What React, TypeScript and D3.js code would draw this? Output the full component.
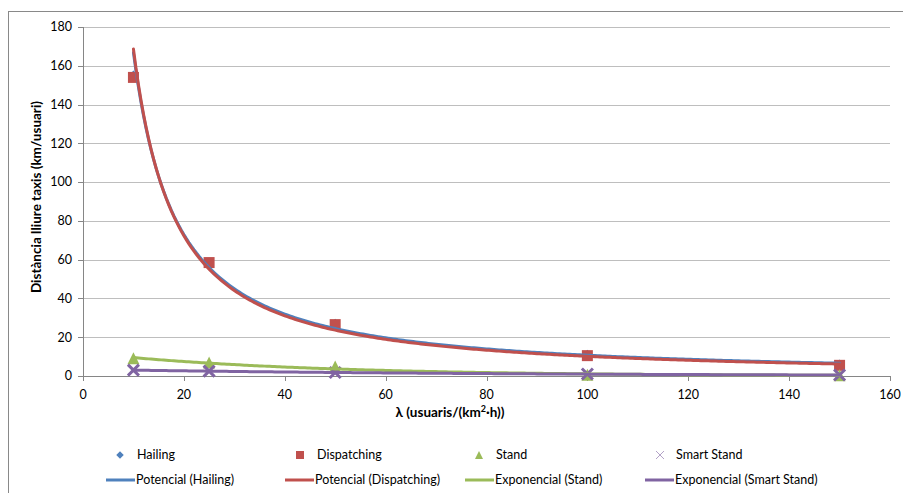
import React from "react";
import * as d3 from "d3";

// Arrival rate λ (usuaris/(km²·h))
const lambdas = [10, 25, 50, 100, 150];
// Free distance per taxi (km/usuari) for each operating mode
const hailing = [155, 58.5, 27, 11, 6];
const dispatching = [154, 58.5, 26.5, 10.5, 5.5];
const stand = [9.2, 6.9, 4.9, 0.6, 0.45];
const smartStand = [3, 2.5, 1.8, 1.0, 0.5];

const xTicks = [0, 20, 40, 60, 80, 100, 120, 140, 160];
const yTicks = [0, 20, 40, 60, 80, 100, 120, 140, 160, 180];

const BLUE = "#4F81BD";
const RED = "#C0504D";
const GREEN = "#9BBB59";
const PURPLE = "#8064A2";
const FONT = "Lato, 'Open Sans', sans-serif";

// Least-squares fits in log space, as spreadsheet trendlines do
function powerFit(xs: number[], ys: number[]) {
  const lx = xs.map(Math.log);
  const ly = ys.map(Math.log);
  const mx = d3.mean(lx)!;
  const my = d3.mean(ly)!;
  const b = d3.sum(lx, (v, i) => (v - mx) * (ly[i] - my)) / d3.sum(lx, (v) => (v - mx) ** 2);
  const a = Math.exp(my - b * mx);
  return (x: number) => a * Math.pow(x, b);
}
function expFit(xs: number[], ys: number[]) {
  const ly = ys.map(Math.log);
  const mx = d3.mean(xs)!;
  const my = d3.mean(ly)!;
  const b = d3.sum(xs, (v, i) => (v - mx) * (ly[i] - my)) / d3.sum(xs, (v) => (v - mx) ** 2);
  const a = Math.exp(my - b * mx);
  return (x: number) => a * Math.exp(b * x);
}

const x = d3.scaleLinear().domain([0, 160]).range([83, 890]);
const y = d3.scaleLinear().domain([0, 180]).range([376, 27]);

const samples = d3.range(10, 150.01, 0.5);
const trend = (f: (v: number) => number) =>
  d3.line<number>().x((v) => x(v)).y((v) => y(f(v))).curve(d3.curveLinear)(samples)!;

const diamond = d3.symbol().type(d3.symbolDiamond2);

function Square({ cx, cy, s, color }: { cx: number; cy: number; s: number; color: string }) {
  return <rect x={cx - s / 2} y={cy - s / 2} width={s} height={s} fill={color} />;
}
function Triangle({ cx, cy, s, color }: { cx: number; cy: number; s: number; color: string }) {
  const h = s / 2;
  return <path d={`M${cx},${cy - h}L${cx + h},${cy + h}L${cx - h},${cy + h}Z`} fill={color} />;
}
function Cross({ cx, cy, s, color, w }: { cx: number; cy: number; s: number; color: string; w: number }) {
  const h = s / 2;
  return (
    <path
      d={`M${cx - h},${cy - h}L${cx + h},${cy + h}M${cx - h},${cy + h}L${cx + h},${cy - h}`}
      stroke={color}
      strokeWidth={w}
      fill="none"
    />
  );
}

export default function App() {
  const trendlines = [
    { d: trend(powerFit(lambdas, hailing)), color: BLUE },
    { d: trend(powerFit(lambdas, dispatching)), color: RED },
    { d: trend(expFit(lambdas, stand)), color: GREEN },
    { d: trend(expFit(lambdas, smartStand)), color: PURPLE },
  ];

  const legendRow1 = [
    { label: "Hailing", mx: 120, tx: 137, kind: "diamond" },
    { label: "Dispatching", mx: 300, tx: 317, kind: "square" },
    { label: "Stand", mx: 479, tx: 496, kind: "triangle" },
    { label: "Smart Stand", mx: 660, tx: 676, kind: "cross" },
  ];
  const legendRow2 = [
    { label: "Potencial (Hailing)", x0: 106, color: BLUE },
    { label: "Potencial (Dispatching)", x0: 285, color: RED },
    { label: "Exponencial (Stand)", x0: 465, color: GREEN },
    { label: "Exponencial (Smart Stand)", x0: 645, color: PURPLE },
  ];

  return (
    <svg
      width={903}
      height={493}
      style={{ position: "absolute", left: 0, top: 0, background: "#fff" }}
      fontFamily={FONT}
    >
      <rect x={8.5} y={11.5} width={1000} height={1000} fill="#fff" stroke="#898989" strokeWidth={1} />

      {/* gridlines */}
      {yTicks.map((t) => (
        <line key={`g${t}`} x1={x(0)} x2={x(160)} y1={Math.round(y(t)) + 0.5} y2={Math.round(y(t)) + 0.5}
          stroke={t === 0 ? "#868686" : "#BEBEBE"} strokeWidth={1} />
      ))}

      {/* y axis */}
      <line x1={x(0) + 0.5} x2={x(0) + 0.5} y1={y(180)} y2={y(0)} stroke="#868686" />
      {yTicks.map((t) => (
        <g key={`y${t}`}>
          <line x1={x(0) - 5} x2={x(0)} y1={Math.round(y(t)) + 0.5} y2={Math.round(y(t)) + 0.5} stroke="#868686" />
          <text x={72} y={y(t)} dy="0.35em" textAnchor="end" fontSize={12.5} fill="#000">{t}</text>
        </g>
      ))}

      {/* x axis */}
      {xTicks.map((t) => (
        <g key={`x${t}`}>
          <line x1={Math.round(x(t)) + 0.5} x2={Math.round(x(t)) + 0.5} y1={y(0)} y2={y(0) + 5} stroke="#868686" />
          <text x={x(t)} y={399} textAnchor="middle" fontSize={12.5} fill="#000">{t}</text>
        </g>
      ))}

      <text x={450} y={417} textAnchor="middle" fontSize={13.5} fontWeight="bold">
        λ (usuaris/(km<tspan dy={-5} fontSize={9}>2</tspan><tspan dy={5}>·h))</tspan>
      </text>
      <text transform="translate(41,197) rotate(-90)" textAnchor="middle" fontSize={13.5} fontWeight="bold">
        Distància lliure taxis (km/usuari)
      </text>

      {/* data markers */}
      {lambdas.map((l, i) => (
        <path key={`h${i}`} d={diamond.size(60)()!} transform={`translate(${x(l)},${y(hailing[i])})`} fill={BLUE} />
      ))}
      {lambdas.map((l, i) => (
        <Square key={`d${i}`} cx={x(l)} cy={y(dispatching[i])} s={11} color={RED} />
      ))}
      {lambdas.map((l, i) => (
        <Triangle key={`s${i}`} cx={x(l)} cy={y(stand[i])} s={12} color={GREEN} />
      ))}
      {lambdas.map((l, i) => (
        <Cross key={`ss${i}`} cx={x(l)} cy={y(smartStand[i])} s={11} color={PURPLE} w={3} />
      ))}

      {/* trendlines */}
      {trendlines.map((t, i) => (
        <path key={`t${i}`} d={t.d} fill="none" stroke={t.color} strokeWidth={3} strokeLinecap="round" />
      ))}

      {/* legend */}
      {legendRow1.map((it) => (
        <g key={it.label}>
          {it.kind === "diamond" && <path d={diamond.size(36)()!} transform={`translate(${it.mx},455)`} fill={BLUE} />}
          {it.kind === "square" && <Square cx={it.mx} cy={455} s={8} color={RED} />}
          {it.kind === "triangle" && <Triangle cx={it.mx} cy={455} s={8} color={GREEN} />}
          {it.kind === "cross" && <Cross cx={it.mx} cy={455} s={8} color="#B3A2C7" w={1} />}
          <text x={it.tx} y={455} dy="0.35em" fontSize={12.5}>{it.label}</text>
        </g>
      ))}
      {legendRow2.map((it) => (
        <g key={it.label}>
          <line x1={it.x0} x2={it.x0 + 29} y1={480} y2={480} stroke={it.color} strokeWidth={3} />
          <text x={it.x0 + 30} y={480} dy="0.35em" fontSize={12.5}>{it.label}</text>
        </g>
      ))}
    </svg>
  );
}
